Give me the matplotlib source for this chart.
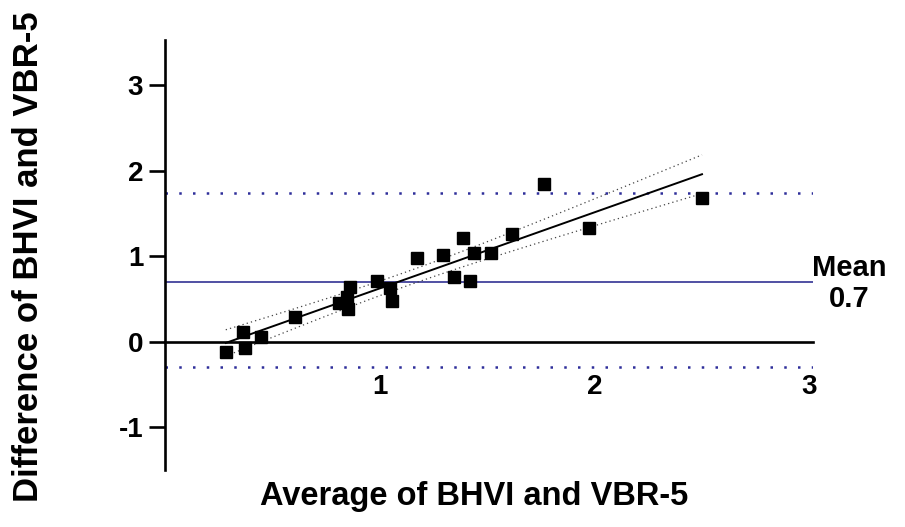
import numpy as np
import matplotlib.pyplot as plt

plt.rcParams['font.family'] = ['Liberation Sans', 'DejaVu Sans']
plt.rcParams['axes.unicode_minus'] = False

# Bland-Altman data
avg = [0.284, 0.363, 0.372, 0.447, 0.605, 0.81, 0.846, 0.86, 0.855, 0.986,
       1.047, 1.056, 1.172, 1.293, 1.344, 1.39, 1.42, 1.44, 1.52, 1.614,
       1.763, 1.972, 2.50]
diff = [-0.117, 0.117, -0.07, 0.06, 0.29, 0.46, 0.53, 0.64, 0.385, 0.71,
        0.63, 0.48, 0.98, 1.02, 0.76, 1.22, 0.71, 1.04, 1.04, 1.26,
        1.85, 1.33, 1.68]
mean_diff = 0.7
upper_loa = 1.74
lower_loa = -0.29
x_ticks = [1, 2, 3]
y_ticks = [-1, 0, 1, 2, 3]

x = np.array(avg)
y = np.array(diff)

# linear regression with 95% confidence band
n = len(x)
slope, icpt = np.polyfit(x, y, 1)
xs = np.linspace(x.min(), x.max(), 100)
fit = slope * xs + icpt
resid = y - (slope * x + icpt)
s = np.sqrt(np.sum(resid**2) / (n - 2))
t = 2.08
band = t * s * np.sqrt(1 / n + (xs - x.mean())**2 / np.sum((x - x.mean())**2))

fig = plt.figure(figsize=(9.05, 5.27), dpi=100)
ax = fig.add_axes([0.182, 0.108, 0.716, 0.816])

blue = '#2e2e9a'
ax.axhline(mean_diff, color='#20208a', lw=1.1, zorder=1)
ax.axhline(upper_loa, color=blue, lw=1.8, ls=(0, (1, 4.5)), zorder=1)
ax.axhline(lower_loa, color=blue, lw=1.8, ls=(0, (1, 4.5)), zorder=1)

ax.plot(xs, fit, color='black', lw=1.4, zorder=2)
ax.plot(xs, fit + band, color='#444444', lw=0.9, ls=(0, (1, 2.5)), zorder=2)
ax.plot(xs, fit - band, color='#444444', lw=0.9, ls=(0, (1, 2.5)), zorder=2)

ax.plot(x, y, 's', color='black', ms=8.3, zorder=3)

ax.set_xlim(0, 3.015)
ax.set_ylim(-1.5, 3.53)

ax.spines['top'].set_visible(False)
ax.spines['right'].set_visible(False)
ax.spines['left'].set_linewidth(1.9)
ax.spines['bottom'].set_linewidth(1.9)
ax.spines['bottom'].set_position(('data', 0))

ax.set_xticks(x_ticks)
ax.set_yticks(y_ticks)
ax.tick_params(axis='x', length=0, pad=23, labelsize=20)
ax.tick_params(axis='y', length=11.5, width=1.9, pad=4, labelsize=20)
for lbl in ax.get_xticklabels() + ax.get_yticklabels():
    lbl.set_fontweight('bold')

ax.text(3.185, 0.68, 'Mean\n0.7', ha='center', va='center',
        fontsize=21, fontweight='bold', linespacing=1.15, clip_on=False)

fig.text(0.524, 0.057, 'Average of BHVI and VBR-5', ha='center', va='center',
         fontsize=23.5, fontweight='bold')
fig.text(0.031, 0.512, 'Difference of BHVI and VBR-5', ha='center', va='center',
         rotation=90, fontsize=25, fontweight='bold')

plt.savefig('out.png', dpi=100)
